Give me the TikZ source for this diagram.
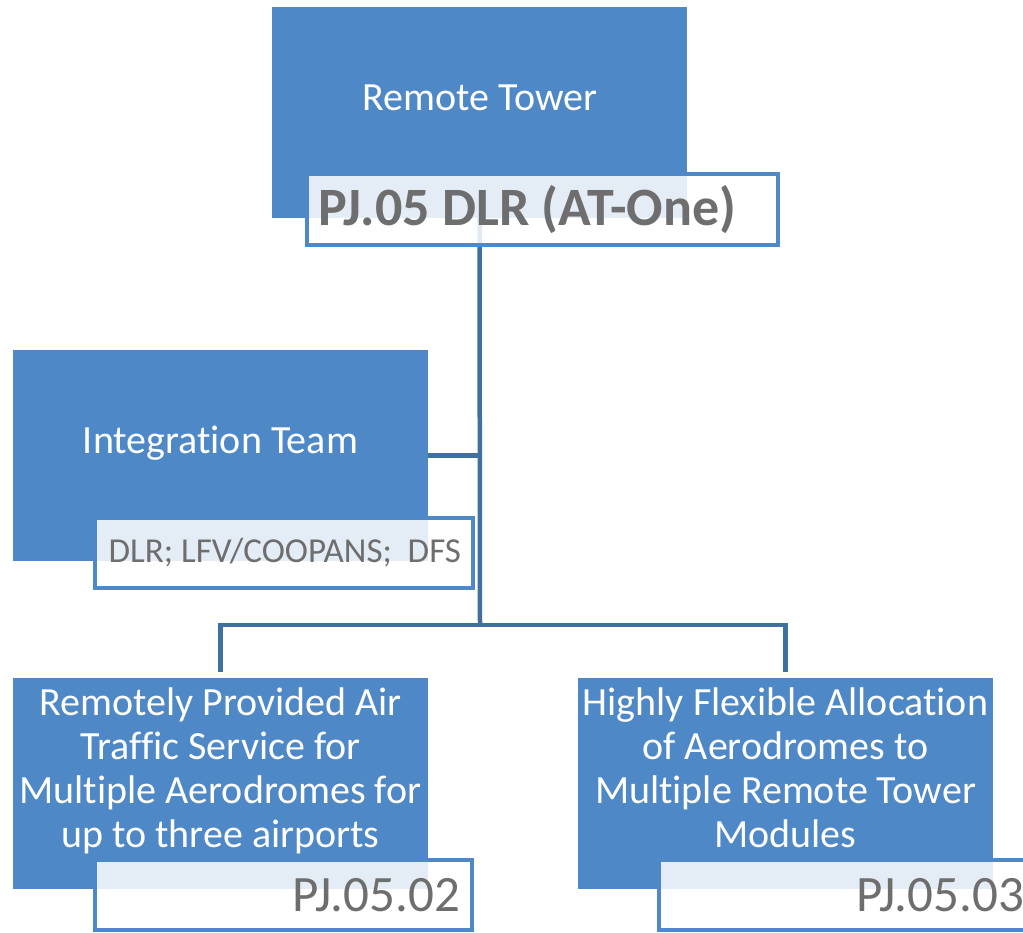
\documentclass[tikz,border=0pt]{standalone}
\usepackage{fontspec}
\setmainfont{Carlito}[Ligatures=NoCommon]
\frenchspacing
\usetikzlibrary{positioning}
\definecolor{unitblue}{RGB}{79,136,198}
\definecolor{linkblue}{RGB}{64,112,160}
\definecolor{taggray}{RGB}{110,110,110}
\tikzset{
unit/.style={fill=unitblue, minimum width=415pt, minimum height=211pt, inner sep=0pt}, % the blue boxes
unittext/.style={text=white, font=\fontsize{40}{44}\selectfont, align=center, inner sep=0pt},
tag/.style={draw=unitblue, line width=4pt, fill=white, fill opacity=0.85, text opacity=1,
  text=taggray, inner xsep=12pt, inner ysep=0pt, minimum height=70pt}, % white name tags
link/.style={draw=linkblue, line width=4.5pt},
}

\begin{document}
\begin{tikzpicture}[x=1pt, y=-1pt]
    \useasboundingbox (0,0) rectangle (1023,933);

    % boxes
    \node[unit] (tower) at (479.5,112.5) {};
    \node[unit] (team) at (220.5,455.5) {};
    \node[unit] (rpas) at (220.5,783.5) {};
    \node[unit] (flex) at (785.5,783.5) {};

    \node[unittext, anchor=base] (towertext) at (480,111) {Remote Tower};
    \node[unittext, anchor=base] (teamtext) at (220.5,453) {Integration Team};
    \node[unittext, anchor=north] (rpastext) at (220.5,688)
        {Remotely Provided Air\\Traffic Service for\\Multiple Aerodromes for\\up to three airports};
    \node[unittext, anchor=north] (flextext) at (785.5,688)
        {Highly Flexible Allocation\\of Aerodromes to\\Multiple Remote Tower\\Modules};

    % connectors
    \coordinate (split) at (480,625);
    \draw[link] (tower.south) -- (split);
    \draw[link] (team.east) -- (team.east -| split);
    \draw[link] ([yshift=6pt]rpas.north) |- (split) -| ([yshift=6pt]flex.north);

    % name tags
    \node[tag, minimum width=471pt, minimum height=71pt, text width=449pt, align=flush left,
          inner xsep=11pt, font=\fontsize{54}{60}\selectfont\bfseries] (dlr) at (542.5,209.5) {PJ.05 DLR (AT-One)};
    \node[tag, minimum width=378pt, text width=354pt, align=flush right,
          font=\fontsize{35}{40}\selectfont] (partners) at (284,553) {DLR; LFV/COOPANS;\ \ DFS};
    \node[tag, minimum width=377pt, text width=353pt, align=flush right,
          font=\fontsize{51}{60}\selectfont] (pj02) at (283.5,895) {PJ.05.02};
    \node[tag, minimum width=377pt, text width=353pt, align=flush right,
          font=\fontsize{51}{60}\selectfont] (pj03) at (847.5,895) {PJ.05.03};

\end{tikzpicture}
\end{document}
